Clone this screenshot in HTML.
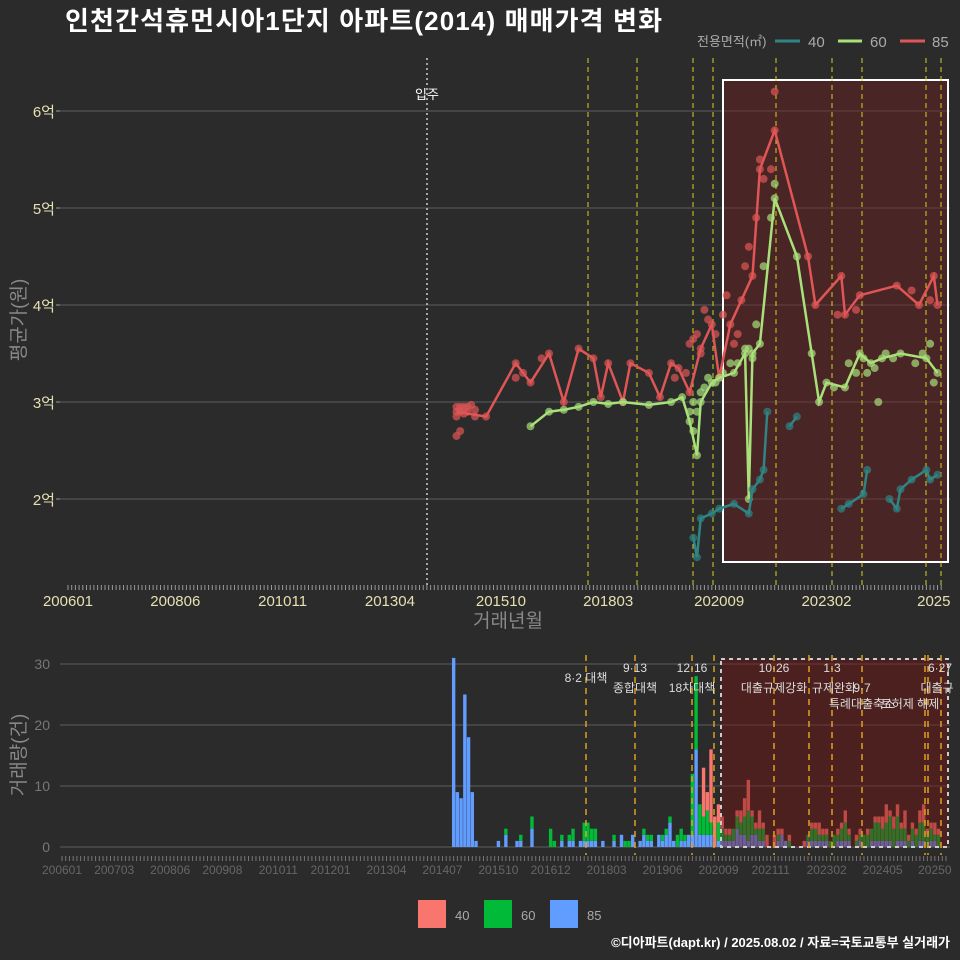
<!DOCTYPE html>
<html><head><meta charset="utf-8"><style>
body{margin:0;background:#2b2b2b;}
svg{display:block;font-family:"Liberation Sans","Noto Sans CJK KR",sans-serif;}
</style></head><body>
<svg id="c" width="960" height="960" viewBox="0 0 960 960">
<rect width="960" height="960" fill="#2b2b2b"/>
<text x="65" y="30" fill="#fff" font-size="26" font-weight="bold" textLength="597">인천간석휴먼시아1단지 아파트(2014) 매매가격 변화</text>
<g>
<text x="697" y="46" fill="#aaa" font-size="13">전용면적(㎡)</text>
<line x1="775" y1="41" x2="800" y2="41" stroke="#2f8585" stroke-width="3"/><text x="808" y="47" fill="#aaa" font-size="15">40</text>
<line x1="838" y1="41" x2="862" y2="41" stroke="#a8e07a" stroke-width="3"/><text x="870" y="47" fill="#aaa" font-size="15">60</text>
<line x1="900" y1="41" x2="925" y2="41" stroke="#e05555" stroke-width="3"/><text x="932" y="47" fill="#aaa" font-size="15">85</text>
</g>
<g id="top"></g>
<g id="bot"></g>
<g>
<rect x="418" y="900" width="28" height="28" fill="#f8766d"/><text x="455" y="920" fill="#aaa" font-size="13">40</text>
<rect x="484" y="900" width="28" height="28" fill="#00ba38"/><text x="521" y="920" fill="#aaa" font-size="13">60</text>
<rect x="550" y="900" width="28" height="28" fill="#619cff"/><text x="587" y="920" fill="#aaa" font-size="13">85</text>
</g>
<text x="950" y="947" text-anchor="end" fill="#fff" font-size="13" font-weight="bold">©디아파트(dapt.kr) / 2025.08.02 / 자료=국토교통부 실거래가</text>
</svg>
<script>
const topTicks=["200601","200806","201011","201304","201510","201803","202009","202302","2025"];
const topTickMonths=["200601","200806","201011","201304","201510","201803","202009","202302","202507"];
const priceTicks=[2,3,4,5,6];
const priceTickLabels=["2억","3억","4억","5억","6억"];
const m85=["201410","201506","201602","201606","201611","201703","201707","201711","201801","201803","201807","201809","201902","201905","201908","201910","202001","202004","202007","202009","202012","202103","202106","202108","202112","202209","202211","202306","202307","202311","202409","202503","202507","202508"];
const v85=[2.9,2.85,3.4,3.2,3.5,3.0,3.55,3.45,3.05,3.4,3.0,3.4,3.3,3.05,3.4,3.35,3.1,3.55,3.8,3.25,3.8,4.05,4.3,5.4,5.8,4.5,4.0,4.3,3.9,4.1,4.2,4.0,4.3,4.0];
const s85m=["201410","201410","201411","201411","201412","201412","201501","201501","201502","201503","201503","201410","201411","201602","201604","201609","201909","201912","202001","202002","202003","202004","202005","202006","202008","202010","202011","202101","202102","202104","202105","202107","202108","202109","202111","202112","202305","202310","202501","202506"];
const s85v=[2.95,2.85,2.95,2.9,2.95,2.88,2.95,2.9,2.97,2.92,2.85,2.65,2.7,3.25,3.3,3.45,3.25,3.3,3.6,3.65,3.7,3.5,3.95,3.85,3.7,3.9,4.1,3.6,3.7,4.4,4.6,4.9,5.5,5.3,5.4,6.2,3.9,3.95,4.15,4.05];
const m60=["201606","201611","201703","201707","201711","201803","201807","201902","201908","201911","202001","202003","202004","202007","202009","202101","202104","202105","202106","202108","202112","202206","202210","202212","202302","202307","202311","202402","202405","202410","202505","202508"];
const v60=[2.75,2.9,2.92,2.95,3.0,2.98,3.0,2.97,3.0,3.05,2.8,2.45,3.0,3.2,3.25,3.3,3.5,2.0,3.5,3.6,5.1,4.5,3.5,3.0,3.2,3.15,3.5,3.4,3.45,3.5,3.45,3.3];
const s60m=["202001","202002","202002","202003","202004","202005","202006","202008","202010","202012","202102","202104","202105","202106","202107","202109","202111","202112","202304","202308","202310","202312","202401","202403","202404","202406","202408","202502","202504","202506","202507"];
const s60v=[2.9,2.7,3.0,2.9,3.1,3.15,3.25,3.2,3.3,3.4,3.4,3.55,3.55,3.45,3.8,4.4,4.9,5.25,3.15,3.4,3.3,3.45,3.3,3.35,3.0,3.5,3.45,3.4,3.5,3.6,3.2];
const m40=["202002","202003","202004","202007","202009","202101","202105","202106","202108","202109","202110","","202204","202206","","202306","202308","202312","202401","","202407","202409","202410","202501","202505","202506","202508"];
const v40=[1.6,1.4,1.8,1.85,1.9,1.95,1.85,2.1,2.2,2.3,2.9,null,2.75,2.85,null,1.9,1.95,2.05,2.3,null,2.0,1.9,2.1,2.2,2.3,2.2,2.25];
const barMonths=["201410","201411","201412","201501","201502","201503","201504","201510","201512","201603","201604","201607","201612","201701","201703","201705","201706","201708","201709","201710","201711","201712","201802","201805","201807","201808","201809","201810","201812","201901","201902","201903","201905","201906","201907","201908","201909","201910","201911","201912","202001","202002","202003","202004","202005","202006","202007","202008","202009","202010","202011","202012","202101","202102","202103","202104","202105","202106","202107","202108","202109","202110","202112","202201","202202","202203","202204","202205","202208","202209","202210","202211","202212","202301","202302","202303","202304","202305","202306","202307","202308","202310","202311","202312","202401","202402","202403","202404","202405","202406","202407","202408","202409","202410","202411","202412","202501","202502","202503","202504","202505","202506","202507","202508"];
const bar40=[0,0,0,0,0,0,0,0,0,0,0,0,0,0,0,0,0,0,0,0,0,0,0,0,0,0,0,0,0,0,0,0,0,0,0,0,0,0,0,0,0,0,0,0,8,3,12,5,3,2,1,1,0,1,2,3,5,1,1,3,1,2,2,1,1,0,1,0,1,0,1,1,2,1,1,0,0,1,1,2,1,1,1,0,1,0,1,1,2,3,1,2,2,1,3,1,1,1,2,3,1,1,2,1];
const bar60=[0,0,0,0,0,0,0,0,1,0,1,2,3,1,1,1,2,0,3,3,2,2,0,1,0,1,1,0,0,1,1,1,0,1,1,1,0,2,2,1,0,10,12,5,3,4,2,0,3,2,1,1,2,2,2,3,5,3,1,2,2,0,0,1,0,0,1,0,0,1,2,2,1,1,1,1,2,1,2,3,1,1,1,2,2,2,3,3,2,3,4,3,4,2,2,1,2,2,3,3,2,2,1,2];
const bar85=[31,9,8,25,18,9,1,1,2,1,1,3,0,0,1,1,1,1,1,1,1,1,1,1,2,0,0,2,1,2,1,1,2,1,2,4,1,0,1,1,2,2,16,2,2,2,2,0,1,1,1,1,1,3,2,2,1,2,2,1,1,0,0,1,2,1,0,0,0,1,1,1,1,1,1,0,0,1,1,1,1,0,1,0,0,1,1,1,1,1,1,0,1,1,1,0,1,0,1,1,0,1,1,0];
const botTicks=["200601","200703","200806","200908","201011","201201","201304","201407","201510","201612","201803","201906","202009","202111","202302","202405","20250"];
const botTickMonths=["200601","200703","200806","200908","201011","201201","201304","201407","201510","201612","201803","201906","202009","202111","202302","202405","202507"];
const volTicks=[0,10,20,30];

const NS="http://www.w3.org/2000/svg";
function mi(s){if(!s)return null;const y=+s.slice(0,4),m=+s.slice(4,6);return (y-2006)*12+(m-1);}
const xT=m=>68+m*3.7, yT=v=>402-(v-3)*97;
const xB=m=>62+m*3.73, yB=v=>847-v*6.1;
function el(tag,a,p,txt){const e=document.createElementNS(NS,tag);for(const k in a)e.setAttribute(k,a[k]);if(txt!=null)e.textContent=txt;p.appendChild(e);return e;}
const T=document.getElementById('top'),B=document.getElementById('bot');
priceTicks.forEach((v,i)=>{
 let g=el('line',{x1:60,x2:950,y1:yT(v),y2:yT(v),stroke:'#5e5e5e','stroke-width':1},T);
 
 
 let t=el('text',{x:55,y:yT(v)+6,'text-anchor':'end',fill:'#e6e0b0','font-size':15},T,priceTickLabels[i]);
 
 
 el('line',{x1:56,x2:60,y1:yT(v),y2:yT(v),stroke:'#999'},T);
});
for(let m=0;m<=236;m++){el('line',{x1:xT(m),x2:xT(m),y1:585,y2:590,stroke:'#999','stroke-width':1},T);}
topTicks.forEach((s,i)=>{let t=el('text',{x:xT(mi(topTickMonths[i])),y:606,'text-anchor':'middle',fill:'#e6e0b0','font-size':15},T,s);
 
 });
let at=el('text',{x:508,y:627,'text-anchor':'middle',fill:'#888','font-size':19},T,'거래년월');


let yt=el('text',{x:25,y:320,'text-anchor':'middle',fill:'#888','font-size':19,transform:'rotate(-90 25 320)'},T,'평균가(원)');


let sb=el('rect',{x:723,y:80,width:225,height:482,fill:'rgba(110,30,30,0.45)',stroke:'#fff','stroke-width':2},T);


el('line',{x1:427,x2:427,y1:58,y2:585,stroke:'#ccc','stroke-dasharray':'2,3','stroke-width':1.5},T);
el('text',{x:427,y:99,'text-anchor':'middle',fill:'#fff','font-size':13},T,'입주');
[588,637,693,713,776,832,862,926,941].forEach(x=>el('line',{x1:x,x2:x,y1:58,y2:585,stroke:'#d8d020','stroke-dasharray':'5,4','stroke-width':1},T));
function pts(ms,vs,col,name){ms.forEach((s,i)=>{if(vs[i]==null)return;let c=el('circle',{cx:xT(mi(s)),cy:yT(vs[i]),r:4,fill:col,opacity:0.7},T);
 
 });}
function series(ms,vs,col,name){
 let d='',pen=false;
 ms.forEach((s,i)=>{if(vs[i]==null){pen=false;return;}d+=(pen?'L':'M')+xT(mi(s)).toFixed(1)+','+yT(vs[i]).toFixed(1);pen=true;});
 let p=el('path',{d:d,fill:'none',stroke:col,'stroke-width':2.5},T);
 
 
 pts(ms,vs,col,name);
}
pts(s85m,s85v,'#e05555','size-85');
pts(s60m,s60v,'#a8e07a','size-60');
series(m85,v85,'#e05555','size-85');
series(m60,v60,'#a8e07a','size-60');
series(m40,v40,'#2f8585','size-40');
volTicks.forEach(v=>{el('line',{x1:60,x2:950,y1:yB(v),y2:yB(v),stroke:'#5e5e5e'},B);
 let t=el('text',{x:50,y:yB(v)+5,'text-anchor':'end',fill:'#777','font-size':14},B,String(v));
 
 });
let bt=el('text',{x:25,y:755,'text-anchor':'middle',fill:'#888','font-size':19,transform:'rotate(-90 25 755)'},B,'거래량(건)');


for(let m=0;m<=237;m++){el('line',{x1:xB(m),x2:xB(m),y1:856,y2:861,stroke:'#777'},B);}
botTicks.forEach((s,i)=>{let t=el('text',{x:xB(mi(botTickMonths[i])),y:874,'text-anchor':'middle',fill:'#666','font-size':12},B,s);
 
 });
barMonths.forEach((s,i)=>{const x=xB(mi(s))-1.7;let base=0;
 [[bar85[i],'#619cff'],[bar60[i],'#00ba38'],[bar40[i],'#f8766d']].forEach(([v,c])=>{if(!v)return;
 let r=el('rect',{x:x,y:yB(base+v),width:3.4,height:v*6.1,fill:c},B);
 
 
 base+=v;});});
let sb2=el('rect',{x:721,y:659,width:227,height:188,fill:'rgba(120,20,20,0.45)',stroke:'#ccc','stroke-dasharray':'4,4','stroke-width':2},B);


[586,635,692,714,774,809,832,862,925,928,941].forEach(x=>el('line',{x1:x,x2:x,y1:655,y2:855,stroke:'#e0a020','stroke-dasharray':'6,5','stroke-width':1.5},B));
[["8·2 대책",586,682],["9·13",635,672],["종합대책",635,692],["12·16",692,672],["18차대책",692,692],["10·26",774,672],["대출규제강화",774,692],["1·3",832,672],["규제완화",834,692],["9·7",862,692],["특례대출축소",862,708],["토허제 해제",910,708],["6·27",940,672],["대출규",937,692]].forEach(([t,x,y])=>{let e=el('text',{x:x,y:y,'text-anchor':'middle',fill:'#ddd','font-size':12},B,t);
 
 });
</script>
</body></html>
